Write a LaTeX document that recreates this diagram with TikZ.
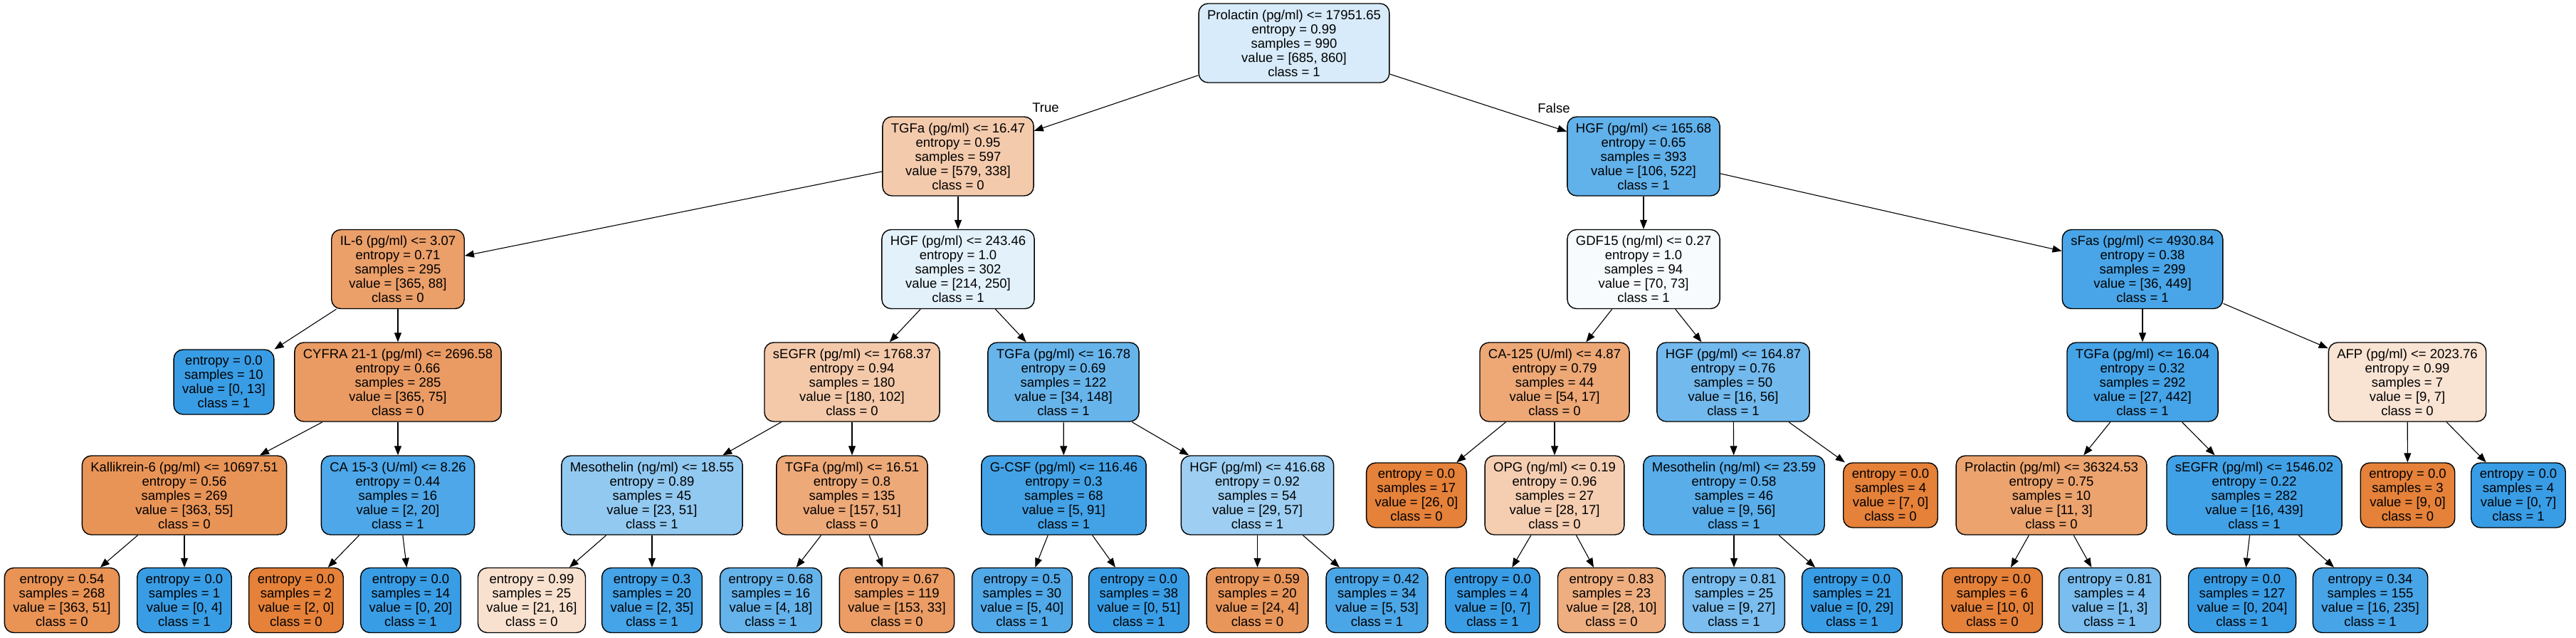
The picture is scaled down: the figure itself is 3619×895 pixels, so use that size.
\documentclass[tikz,border=0pt]{standalone}
\usepackage{fontspec}
\setmainfont{Liberation Sans}
\usepackage{tikz}
\usetikzlibrary{arrows.meta}
\definecolor{clsz}{HTML}{E58139}
\definecolor{clso}{HTML}{399DE5}
\newcommand{\dtsplit}[5]{#1\\entropy = #2\\samples = #3\\value = [#4]\\class = #5}
\newcommand{\dtleaf}[4]{entropy = #1\\samples = #2\\value = [#3]\\class = #4}

\begin{document}
\begin{tikzpicture}[
  x=1pt, y=-1pt,
  nd/.style={draw=black, line width=1.4pt, rounded corners=13pt, align=center,
    font=\fontsize{18.5}{20}\selectfont, inner xsep=12pt, inner ysep=2pt, minimum height=111pt},
  lf/.style={nd, minimum height=91pt},
  czero/.style={fill=clsz!#1!white},
  cone/.style={fill=clso!#1!white},
  ed/.style={line width=1.1pt, -{Triangle[length=13pt,width=10pt]}},
  lab/.style={font=\fontsize{18.5}{20}\selectfont, inner sep=0pt}
]
\useasboundingbox (0,0) rectangle (3619,895);
\node[nd,cone=20] (r) at (1818,60.5) {\dtsplit{Prolactin (pg/ml) <= 17951.65}{0.99}{990}{685, 860}{1}};

\node[nd,czero=42] (r0) at (1346,219.5) {\dtsplit{TGFa (pg/ml) <= 16.47}{0.95}{597}{579, 338}{0}};
\node[nd,cone=80]  (r1) at (2309,219.5) {\dtsplit{HGF (pg/ml) <= 165.68}{0.65}{393}{106, 522}{1}};
\node[lab] (tlab) at (1469,151) {True};
\node[lab] (flab) at (2183,152) {False};

\node[nd,czero=76] (r00) at (559,378)  {\dtsplit{IL-6 (pg/ml) <= 3.07}{0.71}{295}{365, 88}{0}};
\node[nd,cone=14]  (r01) at (1346,378) {\dtsplit{HGF (pg/ml) <= 243.46}{1.0}{302}{214, 250}{1}};
\node[nd,cone=4]   (r10) at (2309,378) {\dtsplit{GDF15 (ng/ml) <= 0.27}{1.0}{94}{70, 73}{1}};
\node[nd,cone=92]  (r11) at (3010,378) {\dtsplit{sFas (pg/ml) <= 4930.84}{0.38}{299}{36, 449}{1}};

\node[lf,cone=100] (r000) at (314.5,536.5) {\dtleaf{0.0}{10}{0, 13}{1}};
\node[nd,czero=79] (r001) at (559,536.5)   {\dtsplit{CYFRA 21-1 (pg/ml) <= 2696.58}{0.66}{285}{365, 75}{0}};
\node[nd,czero=43] (r010) at (1197,536.5)  {\dtsplit{sEGFR (pg/ml) <= 1768.37}{0.94}{180}{180, 102}{0}};
\node[nd,cone=77]  (r011) at (1494,536.5)  {\dtsplit{TGFa (pg/ml) <= 16.78}{0.69}{122}{34, 148}{1}};
\node[nd,czero=69] (r100) at (2184,536.5)  {\dtsplit{CA-125 (U/ml) <= 4.87}{0.79}{44}{54, 17}{0}};
\node[nd,cone=71]  (r101) at (2435,536.5)  {\dtsplit{HGF (pg/ml) <= 164.87}{0.76}{50}{16, 56}{1}};
\node[nd,cone=94]  (r110) at (3010,536.5)  {\dtsplit{TGFa (pg/ml) <= 16.04}{0.32}{292}{27, 442}{1}};
\node[nd,czero=22] (r111) at (3382,536.5)  {\dtsplit{AFP (pg/ml) <= 2023.76}{0.99}{7}{9, 7}{0}};

\node[nd,czero=85]  (r0010) at (259,695.5)    {\dtsplit{Kallikrein-6 (pg/ml) <= 10697.51}{0.56}{269}{363, 55}{0}};
\node[nd,cone=90]   (r0011) at (559,695.5)    {\dtsplit{CA 15-3 (U/ml) <= 8.26}{0.44}{16}{2, 20}{1}};
\node[nd,cone=55]   (r0100) at (916,695.5)    {\dtsplit{Mesothelin (ng/ml) <= 18.55}{0.89}{45}{23, 51}{1}};
\node[nd,czero=68]  (r0101) at (1197,695.5)   {\dtsplit{TGFa (pg/ml) <= 16.51}{0.8}{135}{157, 51}{0}};
\node[nd,cone=95]   (r0110) at (1494.5,695.5) {\dtsplit{G-CSF (pg/ml) <= 116.46}{0.3}{68}{5, 91}{1}};
\node[nd,cone=49]   (r0111) at (1766.5,695.5) {\dtsplit{HGF (pg/ml) <= 416.68}{0.92}{54}{29, 57}{1}};
\node[lf,czero=100] (r1000) at (1990,695.5)   {\dtleaf{0.0}{17}{26, 0}{0}};
\node[nd,czero=39]  (r1001) at (2184,695.5)   {\dtsplit{OPG (ng/ml) <= 0.19}{0.96}{27}{28, 17}{0}};
\node[nd,cone=84]   (r1010) at (2436,695.5)   {\dtsplit{Mesothelin (ng/ml) <= 23.59}{0.58}{46}{9, 56}{1}};
\node[lf,czero=100] (r1011) at (2656,695.5)   {\dtleaf{0.0}{4}{7, 0}{0}};
\node[nd,czero=73]  (r1100) at (2882,695.5)   {\dtsplit{Prolactin (pg/ml) <= 36324.53}{0.75}{10}{11, 3}{0}};
\node[nd,cone=96]   (r1101) at (3167,695.5)   {\dtsplit{sEGFR (pg/ml) <= 1546.02}{0.22}{282}{16, 439}{1}};
\node[lf,czero=100] (r1110) at (3382.5,695.5) {\dtleaf{0.0}{3}{9, 0}{0}};
\node[lf,cone=100]  (r1111) at (3538,695.5)   {\dtleaf{0.0}{4}{0, 7}{1}};

\node[lf,czero=86]  (r00100) at (87,843)     {\dtleaf{0.54}{268}{363, 51}{0}};
\node[lf,cone=100]  (r00101) at (259,843)    {\dtleaf{0.0}{1}{0, 4}{1}};
\node[lf,czero=100] (r00110) at (416,843)    {\dtleaf{0.0}{2}{2, 0}{0}};
\node[lf,cone=100]  (r00111) at (577,843)    {\dtleaf{0.0}{14}{0, 20}{1}};
\node[lf,czero=24]  (r01000) at (747,843)    {\dtleaf{0.99}{25}{21, 16}{0}};
\node[lf,cone=94]   (r01001) at (916,843)    {\dtleaf{0.3}{20}{2, 35}{1}};
\node[lf,cone=78]   (r01010) at (1083,843)   {\dtleaf{0.68}{16}{4, 18}{1}};
\node[lf,czero=78]  (r01011) at (1260,843)   {\dtleaf{0.67}{119}{153, 33}{0}};
\node[lf,cone=88]   (r01100) at (1436,843)   {\dtleaf{0.5}{30}{5, 40}{1}};
\node[lf,cone=100]  (r01101) at (1600,843)   {\dtleaf{0.0}{38}{0, 51}{1}};
\node[lf,czero=83]  (r01110) at (1766.5,843) {\dtleaf{0.59}{20}{24, 4}{0}};
\node[lf,cone=91]   (r01111) at (1934.5,843) {\dtleaf{0.42}{34}{5, 53}{1}};
\node[lf,cone=100]  (r10010) at (2097,843)   {\dtleaf{0.0}{4}{0, 7}{1}};
\node[lf,czero=64]  (r10011) at (2264,843)   {\dtleaf{0.83}{23}{28, 10}{0}};
\node[lf,cone=67]   (r10100) at (2436,843)   {\dtleaf{0.81}{25}{9, 27}{1}};
\node[lf,cone=100]  (r10101) at (2602,843)   {\dtleaf{0.0}{21}{0, 29}{1}};
\node[lf,czero=100] (r11000) at (2799,843)   {\dtleaf{0.0}{6}{10, 0}{0}};
\node[lf,cone=67]   (r11001) at (2964,843)   {\dtleaf{0.81}{4}{1, 3}{1}};
\node[lf,cone=100]  (r11010) at (3150,843)   {\dtleaf{0.0}{127}{0, 204}{1}};
\node[lf,cone=93]   (r11011) at (3330,843)   {\dtleaf{0.34}{155}{16, 235}{1}};

\draw[ed] (r)--(r0); \draw[ed] (r)--(r1);
\draw[ed] (r0)--(r00); \draw[ed] (r0)--(r01); \draw[ed] (r1)--(r10); \draw[ed] (r1)--(r11);
\draw[ed] (r00)--(r000); \draw[ed] (r00)--(r001); \draw[ed] (r01)--(r010); \draw[ed] (r01)--(r011);
\draw[ed] (r10)--(r100); \draw[ed] (r10)--(r101); \draw[ed] (r11)--(r110); \draw[ed] (r11)--(r111);
\draw[ed] (r001)--(r0010); \draw[ed] (r001)--(r0011); \draw[ed] (r010)--(r0100); \draw[ed] (r010)--(r0101);
\draw[ed] (r011)--(r0110); \draw[ed] (r011)--(r0111); \draw[ed] (r100)--(r1000); \draw[ed] (r100)--(r1001);
\draw[ed] (r101)--(r1010); \draw[ed] (r101)--(r1011); \draw[ed] (r110)--(r1100); \draw[ed] (r110)--(r1101);
\draw[ed] (r111)--(r1110); \draw[ed] (r111)--(r1111);
\draw[ed] (r0010)--(r00100); \draw[ed] (r0010)--(r00101); \draw[ed] (r0011)--(r00110); \draw[ed] (r0011)--(r00111);
\draw[ed] (r0100)--(r01000); \draw[ed] (r0100)--(r01001); \draw[ed] (r0101)--(r01010); \draw[ed] (r0101)--(r01011);
\draw[ed] (r0110)--(r01100); \draw[ed] (r0110)--(r01101); \draw[ed] (r0111)--(r01110); \draw[ed] (r0111)--(r01111);
\draw[ed] (r1001)--(r10010); \draw[ed] (r1001)--(r10011); \draw[ed] (r1010)--(r10100); \draw[ed] (r1010)--(r10101);
\draw[ed] (r1100)--(r11000); \draw[ed] (r1100)--(r11001); \draw[ed] (r1101)--(r11010); \draw[ed] (r1101)--(r11011);
\end{tikzpicture}
\end{document}
